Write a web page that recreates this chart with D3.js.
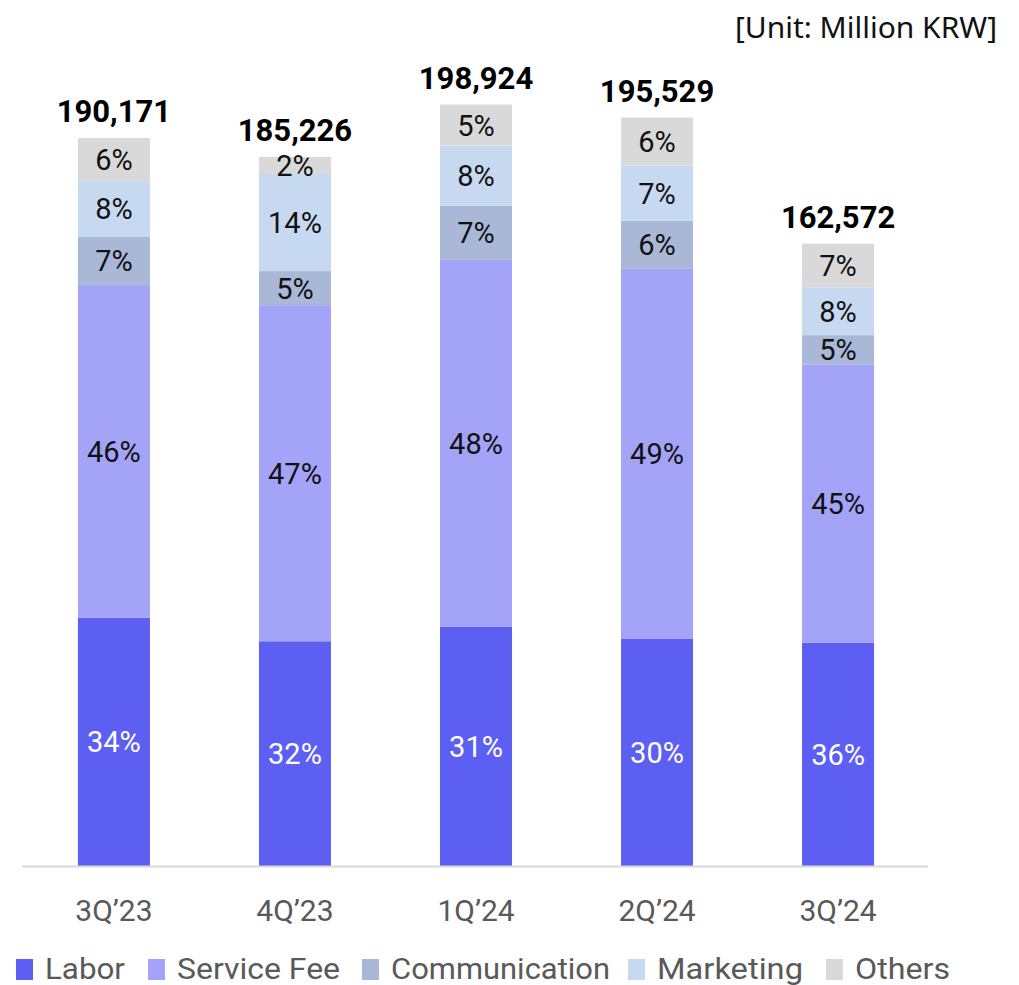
<!DOCTYPE html>
<html>
<head>
<meta charset="utf-8">
<script src="https://cdn.jsdelivr.net/npm/d3@7"></script>
<style>
  html, body { margin: 0; padding: 0; background: #fff; }
  #chart { width: 1019px; height: 985px; }
</style>
</head>
<body>
<div id="chart"></div>
<script>
const quarters = ["3Q\u201923", "4Q\u201923", "1Q\u201924", "2Q\u201924", "3Q\u201924"];
const totals = [190171, 185226, 198924, 195529, 162572];
const seriesNames = ["Labor", "Service Fee", "Communication", "Marketing", "Others"];
// share of each cost item per quarter (%)
const laborShare = [34.1, 31.7, 31.4, 30.4, 35.9];
const serviceFeeShare = [45.7, 47.4, 48.2, 49.4, 44.7];
const communicationShare = [6.6, 4.8, 7.1, 6.4, 4.7];
const marketingShare = [7.8, 13.7, 7.9, 7.4, 7.7];
const othersShare = [5.8, 2.4, 5.4, 6.4, 7.0];
const seriesColors = ["#5d5ff3", "#a3a3f7", "#a9b8d7", "#c6d9f1", "#d9d9d9"];

const chartRenderer = (() => {
    const width = 1019, height = 985;
    const margin = { left: 22, right: 91 };
    const baseY = 866;

    function render(targetId) {
        const svg = d3.select(`#${targetId}`).append("svg")
            .attr("width", width).attr("height", height)
            .style("font-family", "Roboto, 'Noto Sans', sans-serif");

        const shares = [laborShare, serviceFeeShare, communicationShare, marketingShare, othersShare];
        const rows = quarters.map((q, i) => {
            const row = { quarter: q, total: totals[i] };
            seriesNames.forEach((s, k) => { row[s] = shares[k][i] / 100 * totals[i]; });
            return row;
        });

        const x = d3.scaleBand().domain(quarters).range([22, 930])
            .paddingInner(0.6022).paddingOuter(0.309);
        const y = d3.scaleLinear().domain([0, 200000]).range([baseY, baseY - 765.6]);
        const color = d3.scaleOrdinal().domain(seriesNames).range(seriesColors);

        const layers = d3.stack().keys(seriesNames)(rows);

        const g = svg.append("g");
        const layer = g.selectAll(".layer").data(layers).enter().append("g")
            .attr("class", "layer")
            .attr("fill", d => color(d.key));

        layer.selectAll("rect").data(d => d.map(p => ({ key: d.key, p }))).enter().append("rect")
            .attr("x", d => x(d.p.data.quarter))
            .attr("width", x.bandwidth())
            .attr("y", d => y(d.p[1]))
            .attr("height", d => y(d.p[0]) - y(d.p[1]));

        layer.selectAll("text").data((d, k) => d.map((p, i) => ({ key: d.key, p, share: shares[k][i] }))).enter().append("text")
            .attr("x", d => x(d.p.data.quarter) + x.bandwidth() / 2)
            .attr("y", d => (y(d.p[0]) + y(d.p[1])) / 2)
            .attr("dy", "0.36em")
            .attr("text-anchor", "middle")
            .attr("font-size", 29)
            .attr("fill", d => d.key === "Labor" ? "#ffffff" : "#111111")
            .text(d => `${Math.round(d.share)}%`);

        // totals
        g.selectAll(".total").data(rows).enter().append("text")
            .attr("class", "total")
            .attr("x", d => x(d.quarter) + x.bandwidth() / 2)
            .attr("y", d => y(d.total) - 16)
            .attr("text-anchor", "middle")
            .attr("font-size", 31)
            .attr("font-weight", "bold")
            .attr("fill", "#000")
            .text(d => d3.format(",")(d.total));

        // axis
        const axis = svg.append("g").attr("transform", `translate(0,${baseY})`)
            .call(d3.axisBottom(x).tickSize(0).tickPadding(34).tickSizeOuter(0));
        axis.select(".domain").attr("stroke", "#d9d9d9").attr("stroke-width", 2)
            .attr("d", `M${margin.left},0.5H${width - margin.right}`);
        axis.selectAll("text").attr("font-size", 30).attr("fill", "#595959")
            .style("font-family", "Roboto, 'Noto Sans', sans-serif");

        // unit label
        svg.append("text")
            .attr("x", 997).attr("y", 38)
            .attr("text-anchor", "end")
            .attr("font-size", 29)
            .attr("fill", "#111")
            .attr("textLength", 262)
            .attr("lengthAdjust", "spacingAndGlyphs")
            .style("font-family", "'Noto Sans', sans-serif")
            .text("[Unit: Million KRW]");

        // legend
        const legendX = [16, 148, 362, 628, 826];
        const legendW = [80, 163, 219, 146, 95];
        const legend = svg.append("g").selectAll("g").data(seriesNames).enter().append("g")
            .attr("transform", (d, i) => `translate(${legendX[i]},958)`);
        legend.append("rect").attr("width", 17).attr("height", 21).attr("y", 1)
            .attr("fill", d => color(d));
        legend.append("text")
            .attr("x", 29).attr("y", 21)
            .attr("font-size", 30)
            .attr("fill", "#595959")
            .attr("textLength", (d, i) => legendW[i])
            .attr("lengthAdjust", "spacingAndGlyphs")
            .text(d => d);
    }

    return Object.freeze({ render });
})();

chartRenderer.render("chart");
</script>
</body>
</html>
